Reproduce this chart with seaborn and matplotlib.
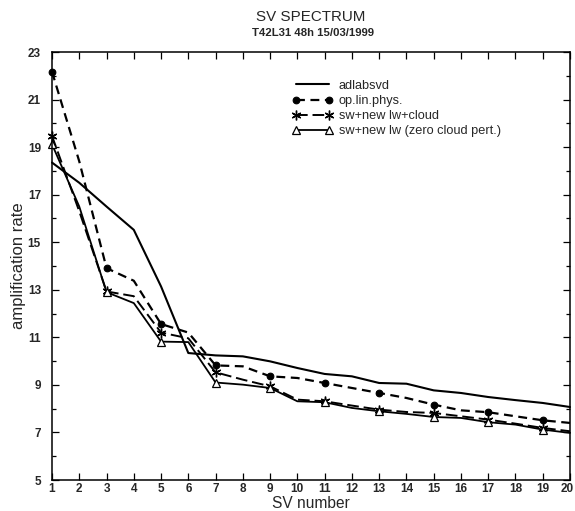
import numpy as np
import pandas as pd
import matplotlib
matplotlib.use("Agg")
import matplotlib.pyplot as plt
import matplotlib.transforms as mtransforms
import seaborn as sns
from matplotlib.lines import Line2D
from matplotlib.ticker import MultipleLocator

sv = list(range(1, 21))
adlabsvd = [18.35, 17.5, 16.5, 15.52, 13.14, 10.34, 10.24, 10.2, 9.99, 9.71,
            9.46, 9.36, 9.08, 9.05, 8.77, 8.66, 8.49, 8.36, 8.24, 8.07]
op_lin_phys = [22.17, 18.4, 13.91, 13.38, 11.56, 11.2, 9.82, 9.78, 9.36, 9.29,
               9.08, 8.87, 8.66, 8.45, 8.17, 7.93, 7.85, 7.68, 7.51, 7.40]
sw_lw_cloud = [19.47, 16.3, 12.93, 12.73, 11.2, 10.96, 9.53, 9.22, 8.94, 8.38,
               8.31, 8.13, 7.96, 7.86, 7.82, 7.68, 7.54, 7.37, 7.19, 7.05]
sw_lw_zero = [19.12, 16.5, 12.9, 12.44, 10.82, 10.8, 9.1, 9.01, 8.87, 8.31,
              8.27, 8.03, 7.89, 7.78, 7.65, 7.61, 7.43, 7.33, 7.12, 6.98]
labels = ["adlabsvd", "op.lin.phys.", "sw+new lw+cloud", "sw+new lw (zero cloud pert.)"]
xticks = list(range(1, 21))
yticks = [5, 7, 9, 11, 13, 15, 17, 19, 21, 23]

sns.set_style("ticks")
plt.rcParams['font.family'] = ['Liberation Sans', 'DejaVu Sans']

fig = plt.figure(figsize=(5.75, 5.11), dpi=100)
ax = fig.add_axes([52/575, 1-480/511, (570-52)/575, (480-52)/511])

df = pd.DataFrame({"sv": sv, "a": adlabsvd, "b": op_lin_phys, "c": sw_lw_cloud, "d": sw_lw_zero})

styles = {
    "a": dict(linestyle="-", linewidth=1.5, marker=None),
    "b": dict(linestyle=(0, (4, 2.5)), linewidth=1.6, marker="o", markersize=4.8,
              markerfacecolor="black", markeredgecolor="black", markeredgewidth=0.8,
              markevery=2),
    "c": dict(linestyle=(0, (6, 2.5)), linewidth=1.4, marker=(6, 2, 0), markersize=7,
              markeredgecolor="black", markeredgewidth=1.0, markevery=2),
    "d": dict(linestyle="-", linewidth=1.3, marker="^", markersize=5.5,
              markerfacecolor="white", markeredgecolor="black", markeredgewidth=0.9,
              markevery=2),
}
handles = []
for key, lab in zip(["a", "b", "c", "d"], labels):
    st = styles[key]
    sns.lineplot(data=df, x="sv", y=key, ax=ax, color="black", clip_on=False, **st)
    hst = {k: v for k, v in st.items() if k != "markevery"}
    handles.append(Line2D([0], [0], color="black", **hst))

ax.set_xlim(1, 20)
ax.set_ylim(5, 23)
ax.set_xticks(xticks)
ax.set_yticks(yticks)
ax.yaxis.set_minor_locator(MultipleLocator(1))
ax.tick_params(axis="both", which="both", direction="in", top=True, right=True,
               labelsize=8.5, width=0.9, color="black")
ax.tick_params(which="major", length=5)
ax.tick_params(which="minor", length=3)
ax.tick_params(axis="y", pad=8)
ax.tick_params(axis="x", pad=2.5)
for t in ax.get_xticklabels() + ax.get_yticklabels():
    t.set_fontweight("bold")
last = ax.get_xticklabels()[-1]
last.set_transform(last.get_transform() + mtransforms.ScaledTranslation(-3/100, 0, fig.dpi_scale_trans))
for s in ax.spines.values():
    s.set_linewidth(1.1)
    s.set_color("black")

ax.set_xlabel("")
ax.set_ylabel("")
fig.text(311/575, 1-508/511, "SV number", ha="center", va="baseline", fontsize=11.2)
fig.text(19/575, 1-266/511, "amplification rate", ha="center", va="center",
         rotation=90, fontsize=12)

fig.text(311/575, 1-17/511, "SV SPECTRUM", ha="center", va="center", fontsize=10.9)
fig.text(313/575, 1-33/511, "T42L31 48h 15/03/1999", ha="center", va="center",
         fontsize=8.2, fontweight="bold")

ax.legend(handles, labels, loc="upper left", bbox_to_anchor=((287-52)/518, 0.947),
          frameon=False, numpoints=2, handlelength=3.2, handletextpad=0.45,
          fontsize=9.2, labelspacing=0.25, borderaxespad=0)

fig.savefig("out.png", dpi=100)
